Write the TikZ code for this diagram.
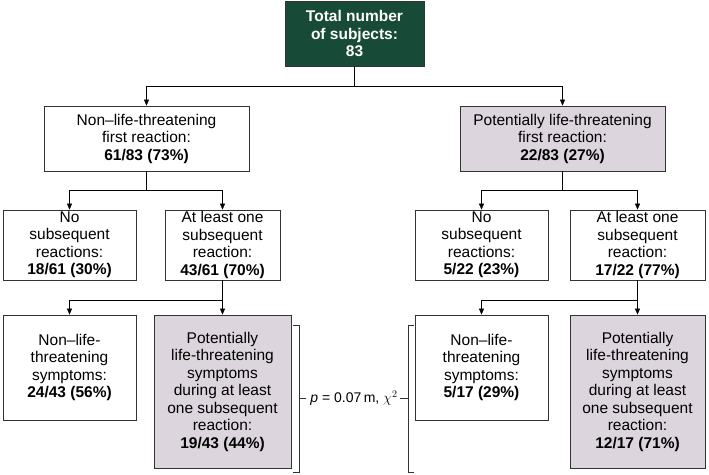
\documentclass[tikz,border=0pt]{standalone}
\usepackage{fontspec}
\setmainfont{Liberation Sans}
\usetikzlibrary{arrows.meta}
\definecolor{dgreen}{HTML}{174A37}
\definecolor{lilac}{HTML}{DDD5DE}
\begin{document}
\begin{tikzpicture}[x=1pt,y=-1pt,
 box/.style={draw=black!80,line width=0.8pt,align=center,inner sep=0pt,font=\fontsize{15.5}{17.5}\selectfont},
 sh/.style={fill=lilac},
 arr/.style={-{Triangle[length=6pt,width=5pt]},line width=0.6pt},
 ln/.style={line width=0.6pt}]
\useasboundingbox (0,0) rectangle (709,474);
\node[box,fill=dgreen,text=white,font=\bfseries\fontsize{15.5}{17.5}\selectfont,minimum width=139pt,minimum height=65pt] (top) at (354.5,33.5) {Total number\\of subjects:\\83};
\node[box,minimum width=205pt,minimum height=65pt] (l1) at (146.5,138.5) {Non--life-threatening\\first reaction:\\\textbf{61/83 (73\%)}};
\node[box,sh,minimum width=205pt,minimum height=65pt] (r1) at (562.5,138.5) {Potentially life-threatening\\first reaction:\\\textbf{22/83 (27\%)}};
\node[box,minimum width=133pt,minimum height=70pt] (l2a) at (69.5,245) {No\\subsequent\\reactions:\\\textbf{18/61 (30\%)}};
\node[box,minimum width=115pt,minimum height=70pt] (l2b) at (222.5,245) {At least one\\subsequent\\reaction:\\\textbf{43/61 (70\%)}};
\node[box,minimum width=133pt,minimum height=70pt] (r2a) at (481.5,245) {No\\subsequent\\reactions:\\\textbf{5/22 (23\%)}};
\node[box,minimum width=135pt,minimum height=70pt] (r2b) at (637.5,245) {At least one\\subsequent\\reaction:\\\textbf{17/22 (77\%)}};
\node[box,minimum width=133pt,minimum height=105pt] (l3a) at (69.5,367.5) {Non--life-\\threatening\\symptoms:\\\textbf{24/43 (56\%)}};
\node[box,sh,minimum width=137pt,minimum height=153pt] (l3b) at (222.5,391.5) {Potentially\\life-threatening\\symptoms\\during at least\\one subsequent\\reaction:\\\textbf{19/43 (44\%)}};
\node[box,minimum width=133pt,minimum height=105pt] (r3a) at (481.5,367.5) {Non--life-\\threatening\\symptoms:\\\textbf{5/17 (29\%)}};
\node[box,sh,minimum width=135pt,minimum height=153pt] (r3b) at (637.5,391.5) {Potentially\\life-threatening\\symptoms\\during at least\\one subsequent\\reaction:\\\textbf{12/17 (71\%)}};
\coordinate (j0) at (354.5,86);
\draw[ln] (top.south) -- (j0);
\draw[arr] (j0) -| (l1.north);
\draw[arr] (j0) -| (r1.north);
\coordinate (j1) at (146.5,190);
\draw[ln] (l1.south) -- (j1);
\draw[arr] (j1) -| (l2a.north);
\draw[arr] (j1) -| (l2b.north);
\coordinate (j2) at (562.5,190);
\draw[ln] (r1.south) -- (j2);
\draw[arr] (j2) -| (r2a.north);
\draw[arr] (j2) -| (r2b.north);
\coordinate (j3) at (222.5,300);
\draw[ln] (l2b.south) -- (j3);
\draw[arr] (j3) -| (l3a.north);
\draw[arr] (j3) -| (l3b.north);
\coordinate (j4) at (637.5,300);
\draw[ln] (r2b.south) -- (j4);
\draw[arr] (j4) -| (r3a.north);
\draw[arr] (j4) -| (r3b.north);
\node[font=\fontsize{14}{15}\selectfont,inner sep=0pt] (p) at (354,398) {\textit{p} = 0.07\,m, $\chi^2$};
\draw[line width=0.8pt,black!80] (293,325) -- (299,325) -- (299,472) -- (293,472);
\draw[line width=0.8pt,black!80] (299,398) -- (306,398);
\draw[line width=0.8pt,black!80] (414,325) -- (408,325) -- (408,472) -- (414,472);
\draw[line width=0.8pt,black!80] (400,398) -- (408,398);
\end{tikzpicture}
\end{document}
